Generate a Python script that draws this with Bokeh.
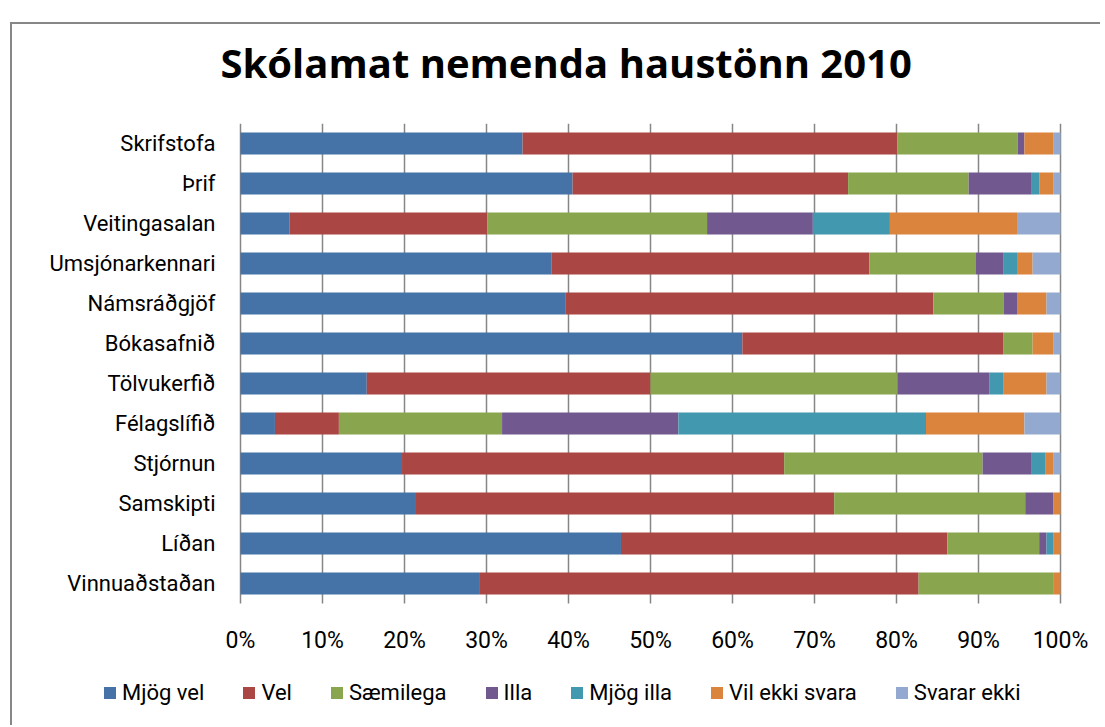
from bokeh.plotting import figure
from bokeh.models import Range1d, PrintfTickFormatter, Legend, LegendItem, FixedTicker
from bokeh.embed import file_html
from bokeh.resources import INLINE

categories = ["Skrifstofa", "Þrif", "Veitingasalan", "Umsjónarkennari", "Námsráðgjöf",
              "Bókasafnið", "Tölvukerfið", "Félagslífið", "Stjórnun", "Samskipti",
              "Líðan", "Vinnuaðstaðan"]
series = ["Mjög vel", "Vel", "Sæmilega", "Illa", "Mjög illa", "Vil ekki svara", "Svarar ekki"]

mjog_vel = [34.4, 40.5, 6.0, 37.9, 39.6, 61.2, 15.4, 4.2, 19.7, 21.4, 46.4, 29.2]
vel = [45.7, 33.6, 24.1, 38.8, 44.9, 31.8, 34.6, 7.8, 46.6, 51.0, 39.8, 53.5]
saemilega = [14.7, 14.7, 26.8, 13.0, 8.6, 3.6, 30.1, 19.9, 24.2, 23.3, 11.2, 16.4]
illa = [0.8, 7.7, 12.9, 3.3, 1.6, 0.0, 11.2, 21.5, 6.0, 3.4, 0.9, 0.0]
mjog_illa = [0.0, 0.9, 9.4, 1.7, 0.0, 0.0, 1.7, 30.2, 1.7, 0.0, 0.8, 0.0]
vil_ekki_svara = [3.5, 1.7, 15.5, 1.9, 3.6, 2.5, 5.3, 12.0, 0.9, 0.9, 0.9, 0.9]
svarar_ekki = [0.9, 0.9, 5.3, 3.4, 1.7, 0.9, 1.7, 4.4, 0.9, 0.0, 0.0, 0.0]

x_ticks = [0, 10, 20, 30, 40, 50, 60, 70, 80, 90, 100]

colors = ["#4572A7", "#AA4643", "#89A54E", "#71588F", "#4198AF", "#DB843D", "#93A9CF"]
FONT = "Roboto"
TITLE_FONT = "Open Sans"

n = len(categories)
ypos = [float(n - 1 - i) for i in range(n)]  # first category on top

data = {"cat": categories, "ypos": ypos}
for name, vals in zip(series, [mjog_vel, vel, saemilega, illa, mjog_illa, vil_ekki_svara, svarar_ekki]):
    data[name] = vals

# The frame also holds the category labels, the value labels and the legend strip.
p = figure(width=1100, height=725, output_backend="svg", toolbar_location=None,
           x_range=Range1d(-24.39, 104.27), y_range=Range1d(-3.55, n - 0.5),
           min_border_left=40, min_border_right=5, min_border_top=123, min_border_bottom=0)

# chart-area box (left and top edges of the chart box)
p.border_fill_alpha = 0
p.styles = {"background": "linear-gradient(#878787, #878787) 10px 22px / 2px calc(100% - 22px) no-repeat, "
                          "linear-gradient(#878787, #878787) 10px 22px / calc(100% - 10px) 2px no-repeat"}

renderers = p.hbar_stack(series, y="ypos", height=0.55, color=colors, source=data, line_color=None)

p.title.text = "Skólamat nemenda haustönn 2010"
p.title.align = "left"
p.title.vertical_align = "top"
p.title.offset = 180
p.title.standoff = 64
p.title.text_font = TITLE_FONT
p.title.text_font_style = "bold"
p.title.text_font_size = "40px"
p.title.text_color = "black"

p.outline_line_color = None
p.background_fill_color = "white"
p.ygrid.grid_line_color = None
p.xgrid.grid_line_color = "#868686"
p.xgrid.grid_line_width = 1.5
p.xgrid.ticker = FixedTicker(ticks=x_ticks)
p.xgrid.cross_bounds = (-0.5, n - 0.5)

p.xaxis.ticker = FixedTicker(ticks=x_ticks)
p.xaxis.formatter = PrintfTickFormatter(format="%d%%")
p.xaxis.fixed_location = -0.5
p.yaxis.ticker = FixedTicker(ticks=ypos)
p.yaxis.major_label_overrides = {y: c for y, c in zip(ypos, categories)}
p.yaxis.fixed_location = 0
for ax in (p.xaxis[0], p.yaxis[0]):
    ax.axis_line_color = None
    ax.major_tick_line_color = None
    ax.minor_tick_line_color = None
    ax.major_tick_out = 0
    ax.major_tick_in = 0
    ax.minor_tick_out = 0
    ax.minor_tick_in = 0
    ax.major_label_text_font = FONT
    ax.major_label_text_color = "black"
p.xaxis.major_label_text_font_size = "23px"
p.yaxis.major_label_text_font_size = "22px"
p.xaxis.major_label_standoff = 23
p.yaxis.major_label_standoff = 25

legend = Legend(items=[LegendItem(label=s, renderers=[r]) for s, r in zip(series, renderers)],
                orientation="horizontal", location=(62, 20),
                glyph_width=15, glyph_height=15, label_standoff=5, spacing=37,
                padding=0, margin=0, border_line_color=None, background_fill_alpha=0,
                label_text_font=FONT, label_text_font_size="22px", label_text_color="black")
p.add_layout(legend)

open("out.html", "w").write(file_html(p, INLINE))
